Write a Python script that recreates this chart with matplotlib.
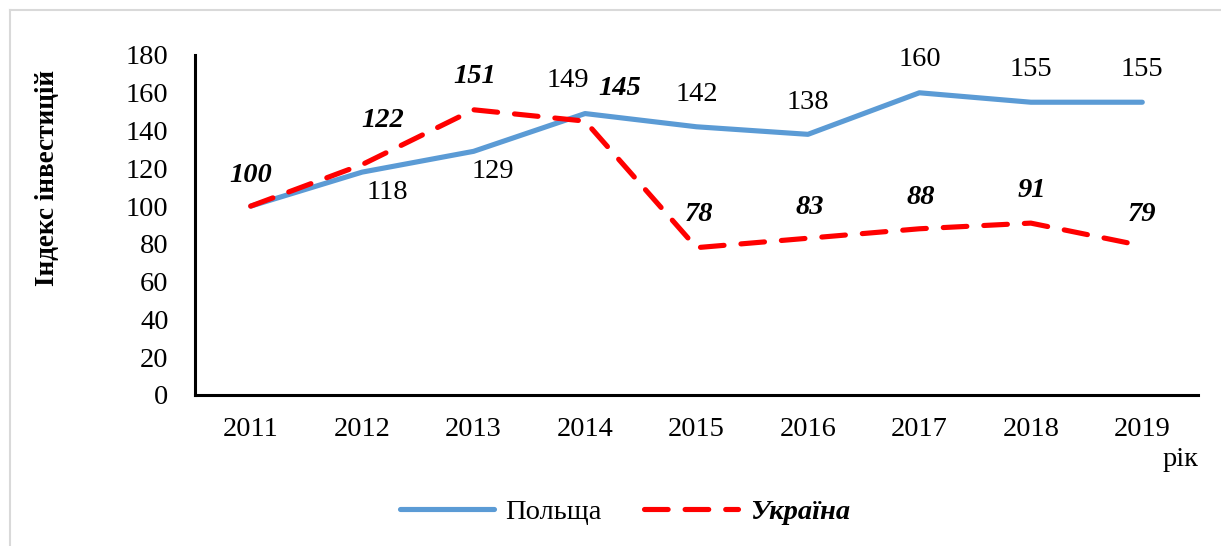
import matplotlib
matplotlib.use('Agg')
import matplotlib.pyplot as plt
from matplotlib.lines import Line2D

plt.rcParams['font.family'] = ['Liberation Serif', 'DejaVu Serif']

years = ['2011', '2012', '2013', '2014', '2015', '2016', '2017', '2018', '2019']
poland = [100, 118, 129, 149, 142, 138, 160, 155, 155]
ukraine = [100, 122, 151, 145, 78, 83, 88, 91, 79]
yticks = [0, 20, 40, 60, 80, 100, 120, 140, 160, 180]

# label offsets in pixels (dx, dy); None = no label
pl_off = [None, (25, -20), (19, -20), (-17, 33), (0, 32), (0, 32), (0, 33), (0, 33), (0, 33)]
ua_off = [(0, 31), (21, 44), (1, 33), (35, 33), (3, 33), (2, 31), (1, 31), (1, 33), (0, 31)]

W, H = 1221, 546
fs = 20.5
fig = plt.figure(figsize=(W / 100, H / 100), dpi=100)
ax = fig.add_axes([195 / W, 1 - 395 / H, (1198 - 195) / W, (395 - 55) / H])

x = list(range(len(years)))
ax.plot(x, poland, color='#5B9BD5', lw=3.7, solid_capstyle='round',
        solid_joinstyle='round', label='Польща')
ax.plot(x, ukraine, color='#FF0000', lw=3.7, dashes=(4.6, 3.3),
        dash_capstyle='round', dash_joinstyle='round', label='Україна')

for i, v in enumerate(poland):
    if pl_off[i] is None:
        continue
    ax.annotate(str(v), (x[i], v), xytext=pl_off[i], textcoords='offset pixels',
                ha='center', va='center', fontsize=fs)
for i, v in enumerate(ukraine):
    ax.annotate(str(v), (x[i], v), xytext=ua_off[i], textcoords='offset pixels',
                ha='center', va='center', fontsize=fs, fontweight='bold',
                fontstyle='italic')

ax.set_xlim(-0.5, len(years) - 0.5)
ax.set_ylim(0, 180)
ax.set_yticks(yticks)
ax.set_xticks(x)
ax.set_xticklabels(years)
ax.tick_params(axis='both', length=0, labelsize=fs)
ax.tick_params(axis='y', pad=19)
ax.tick_params(axis='x', pad=16)
for s in ['top', 'right']:
    ax.spines[s].set_visible(False)
for s in ['left', 'bottom']:
    ax.spines[s].set_linewidth(2.2)
    ax.spines[s].set_color('black')

fig.text(48 / W, 1 - 178 / H, 'Індекс інвестицій', rotation=90, ha='center',
         va='center', fontsize=19.5, fontweight='bold')
fig.text(1198 / W, 1 - 460 / H, 'рік', ha='right', va='center', fontsize=fs)

leg = fig.legend(loc='center', bbox_to_anchor=(625 / W, 1 - 512 / H), ncol=2,
                 frameon=False, fontsize=fs, handlelength=3.3, columnspacing=1.5,
                 handletextpad=0.4)
leg.get_texts()[1].set_fontweight('bold')
leg.get_texts()[1].set_fontstyle('italic')

# light frame (top and left edges visible)
fig.add_artist(Line2D([10 / W, 10 / W], [0, 1 - 10 / H], transform=fig.transFigure,
                      color='#D9D9D9', lw=1.5))
fig.add_artist(Line2D([10 / W, 1], [1 - 10 / H, 1 - 10 / H], transform=fig.transFigure,
                      color='#D9D9D9', lw=1.5))

fig.savefig('out.png', dpi=100, facecolor='white')
